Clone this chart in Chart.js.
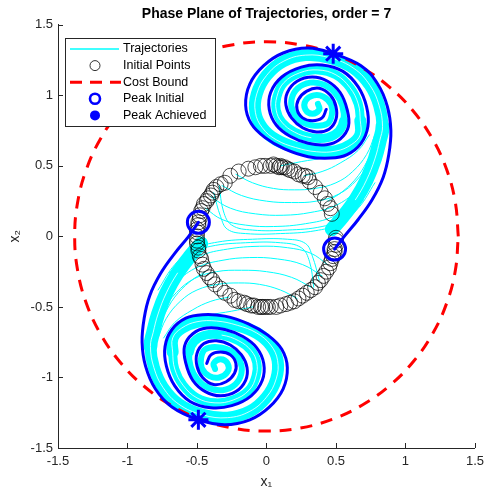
<!DOCTYPE html>
<html>
<head>
<meta charset="utf-8">
<script src="https://cdn.jsdelivr.net/npm/chart.js@4.4.1/dist/chart.umd.min.js"></script>
<style>
  html, body { margin: 0; padding: 0; background: #fff; }
</style>
</head>
<body>
<canvas id="phase" width="490" height="491"></canvas>
<script>
const FONT = '"Liberation Sans", Arial, Helvetica, sans-serif';

// axis ticks
const xTicks = [-1.5, -1, -0.5, 0, 0.5, 1, 1.5];
const xTickLabels = ['-1.5', '-1', '-0.5', '0', '0.5', '1', '1.5'];
const yTicks = [-1.5, -1, -0.5, 0, 0.5, 1, 1.5];
const yTickLabels = ['-1.5', '-1', '-0.5', '0', '0.5', '1', '1.5'];
const legendLabels = ['Trajectories', 'Initial Points', 'Cost Bound', 'Peak Initial', 'Peak Achieved'];

// initial points (ring of radius ~0.5)
const initPts = [
  [0.47,0.16],[0.46,0.20],[0.44,0.23],[0.42,0.27],[0.39,0.31],[0.35,0.35],[0.31,0.39],[0.30,0.42],[0.28,0.43],[0.26,0.43],
  [0.23,0.44],[0.20,0.46],[0.17,0.47],[0.15,0.48],[0.13,0.49],[0.11,0.49],[0.10,0.50],[0.09,0.49],[0.07,0.50],[0.05,0.51],
  [0.03,0.50],[-0.01,0.50],[-0.04,0.50],[-0.08,0.49],[-0.13,0.48],[-0.20,0.46],[-0.26,0.43],[-0.30,0.38],[-0.33,0.37],[-0.36,0.35],
  [-0.38,0.33],[-0.39,0.31],[-0.40,0.29],[-0.42,0.27],[-0.43,0.25],[-0.45,0.23],[-0.46,0.20],[-0.47,0.18],[-0.48,0.15],[-0.48,0.13],
  [-0.49,0.10],[-0.49,0.08],[-0.50,0.05],[-0.50,0.03],[-0.50,0.00],[-0.50,-0.03],[-0.50,-0.05],[-0.49,-0.08],[-0.49,-0.10],[-0.48,-0.14],
  [-0.47,-0.16],[-0.46,-0.20],[-0.45,-0.23],[-0.43,-0.26],[-0.41,-0.29],[-0.39,-0.31],[-0.37,-0.34],[-0.33,-0.37],[-0.30,-0.40],[-0.26,-0.42],
  [-0.23,-0.45],[-0.20,-0.46],[-0.16,-0.47],[-0.14,-0.48],[-0.11,-0.49],[-0.09,-0.49],[-0.06,-0.50],[-0.04,-0.50],[-0.03,-0.50],[-0.01,-0.50],
  [0.01,-0.50],[0.03,-0.50],[0.07,-0.50],[0.10,-0.49],[0.14,-0.48],[0.17,-0.47],[0.20,-0.46],[0.23,-0.44],[0.26,-0.42],[0.29,-0.40],
  [0.32,-0.38],[0.35,-0.36],[0.37,-0.33],[0.39,-0.31],[0.41,-0.28],[0.43,-0.25],[0.45,-0.22],[0.46,-0.19],[0.47,-0.16],[0.48,-0.14],
  [0.49,-0.11],[0.49,-0.09],[0.50,-0.06],[0.50,-0.03],[0.50,-0.01]
];

const peakInit = [[-0.49, 0.10], [0.49, -0.09]];
const peakHit = [[0.48, 1.295], [-0.49, -1.30]];

// cost bound level set
const costBound = [
  [1.38,0],[1.359,0.24],[1.297,0.472],[1.195,0.69],[1.057,0.887],[0.887,1.057],[0.69,1.195],[0.472,1.297],[0.24,1.359],[0,1.38],
  [-0.24,1.359],[-0.472,1.297],[-0.69,1.195],[-0.887,1.057],[-1.057,0.887],[-1.195,0.69],[-1.297,0.472],[-1.359,0.24],[-1.38,0],
  [-1.359,-0.24],[-1.297,-0.472],[-1.195,-0.69],[-1.057,-0.887],[-0.887,-1.057],[-0.69,-1.195],[-0.472,-1.297],[-0.24,-1.359],[0,-1.38],
  [0.24,-1.359],[0.472,-1.297],[0.69,-1.195],[0.887,-1.057],[1.057,-0.887],[1.195,-0.69],[1.297,-0.472],[1.359,-0.24],[1.38,0]
];

// peak trajectories
const blueTop = [
  [0.49,-0.09],[0.56,0.00],[0.66,0.12],[0.76,0.26],[0.84,0.42],[0.88,0.58],[0.895,0.75],[0.87,0.92],[0.80,1.08],[0.68,1.21],
  [0.48,1.295],[0.30,1.335],[0.12,1.30],[-0.02,1.21],[-0.12,1.08],[-0.15,0.93],[-0.11,0.80],[-0.01,0.70],[0.13,0.62],[0.30,0.565],
  [0.46,0.555],[0.58,0.58],[0.68,0.66],[0.73,0.78],[0.72,0.92],[0.66,1.06],[0.55,1.17],[0.40,1.215],[0.25,1.20],[0.11,1.13],
  [0.03,1.02],[0.02,0.90],[0.07,0.79],[0.17,0.71],[0.30,0.66],[0.43,0.65],[0.53,0.69],[0.59,0.78],[0.58,0.90],[0.53,1.02],
  [0.44,1.10],[0.33,1.13],[0.22,1.10],[0.15,1.02],[0.14,0.93],[0.18,0.84],[0.26,0.77],[0.36,0.74],[0.45,0.76],[0.50,0.83],
  [0.50,0.92],[0.46,1.00],[0.38,1.05],[0.29,1.03],[0.23,0.97],[0.22,0.90],[0.26,0.84],[0.33,0.82],[0.40,0.84],[0.43,0.90]
];
const blueBot = [
  [-0.49,0.10],[-0.56,0.00],[-0.66,-0.12],[-0.76,-0.26],[-0.84,-0.42],[-0.88,-0.58],[-0.895,-0.75],[-0.87,-0.92],[-0.80,-1.08],[-0.68,-1.21],
  [-0.49,-1.30],[-0.30,-1.335],[-0.12,-1.30],[0.02,-1.21],[0.12,-1.08],[0.15,-0.93],[0.11,-0.80],[0.01,-0.70],[-0.13,-0.62],[-0.30,-0.565],
  [-0.46,-0.555],[-0.58,-0.58],[-0.68,-0.66],[-0.73,-0.78],[-0.72,-0.92],[-0.66,-1.06],[-0.55,-1.17],[-0.40,-1.215],[-0.25,-1.20],[-0.11,-1.13],
  [-0.03,-1.02],[-0.02,-0.90],[-0.07,-0.79],[-0.17,-0.71],[-0.30,-0.66],[-0.43,-0.65],[-0.53,-0.69],[-0.59,-0.78],[-0.58,-0.90],[-0.53,-1.02],
  [-0.44,-1.10],[-0.33,-1.13],[-0.22,-1.10],[-0.15,-1.02],[-0.14,-0.93],[-0.18,-0.84],[-0.26,-0.77],[-0.36,-0.74],[-0.45,-0.76],[-0.50,-0.83],
  [-0.50,-0.92],[-0.46,-1.00],[-0.38,-1.05],[-0.29,-1.03],[-0.23,-0.97],[-0.22,-0.90],[-0.26,-0.84],[-0.33,-0.82],[-0.40,-0.84],[-0.43,-0.90]
];

// bundle of trajectories wound into each spiral
const bandTop = [
  [0.47,0.05],[0.55,0.14],[0.64,0.26],[0.72,0.40],[0.78,0.55],[0.815,0.68],
  [0.835,0.78],[0.81,0.93],[0.745,1.07],[0.63,1.19],[0.46,1.265],[0.28,1.285],[0.12,1.24],[0.0,1.14],[-0.07,1.01],[-0.08,0.88],
  [-0.03,0.77],[0.07,0.685],[0.21,0.63],[0.36,0.60],[0.50,0.605],[0.61,0.65],[0.675,0.72],
  [0.675,0.82],[0.66,0.94],[0.60,1.055],[0.50,1.145],[0.37,1.18],[0.24,1.16],[0.125,1.09],[0.075,0.99],[0.07,0.895],[0.11,0.81],
  [0.20,0.74],[0.32,0.70],[0.44,0.70],[0.52,0.745],
  [0.555,0.82],[0.545,0.925],[0.495,1.015],[0.415,1.075],[0.315,1.09],[0.225,1.05],[0.18,0.97],[0.19,0.885],[0.25,0.815],
  [0.35,0.785],[0.44,0.80],[0.47,0.86],
  [0.465,0.935],[0.41,0.99],[0.34,1.0],[0.28,0.96],[0.28,0.90],[0.33,0.87],[0.38,0.9],[0.37,0.94]
];
const bandBot = [
  [-0.47,-0.05],[-0.55,-0.14],[-0.64,-0.26],[-0.72,-0.40],[-0.78,-0.55],[-0.815,-0.68],
  [-0.835,-0.78],[-0.81,-0.93],[-0.745,-1.07],[-0.63,-1.19],[-0.46,-1.265],[-0.28,-1.285],[-0.12,-1.24],[0.0,-1.14],[0.07,-1.01],[0.08,-0.88],
  [0.03,-0.77],[-0.07,-0.685],[-0.21,-0.63],[-0.36,-0.60],[-0.50,-0.605],[-0.61,-0.65],[-0.675,-0.72],
  [-0.675,-0.82],[-0.66,-0.94],[-0.60,-1.055],[-0.50,-1.145],[-0.37,-1.18],[-0.24,-1.16],[-0.125,-1.09],[-0.075,-0.99],[-0.07,-0.895],[-0.11,-0.81],
  [-0.20,-0.74],[-0.32,-0.70],[-0.44,-0.70],[-0.52,-0.745],
  [-0.555,-0.82],[-0.545,-0.925],[-0.495,-1.015],[-0.415,-1.075],[-0.315,-1.09],[-0.225,-1.05],[-0.18,-0.97],[-0.19,-0.885],[-0.25,-0.815],
  [-0.35,-0.785],[-0.44,-0.80],[-0.47,-0.86],
  [-0.465,-0.935],[-0.41,-0.99],[-0.34,-1.0],[-0.28,-0.96],[-0.28,-0.90],[-0.33,-0.87],[-0.38,-0.9],[-0.37,-0.94]
];

// single trajectories leaving the ring
const thinTop = [
  [[-0.22,0.44],[-0.10,0.38],[0.05,0.34],[0.20,0.33],[0.35,0.34],[0.50,0.38],[0.62,0.46],[0.72,0.58],[0.78,0.72]],
  [[-0.32,0.36],[-0.18,0.29],[0.0,0.25],[0.18,0.24],[0.36,0.25],[0.52,0.30],[0.65,0.40],[0.75,0.54],[0.80,0.70]],
  [[-0.40,0.28],[-0.26,0.20],[-0.08,0.16],[0.12,0.15],[0.32,0.17],[0.50,0.22],[0.64,0.32],[0.76,0.48]],
  [[-0.44,0.20],[-0.32,0.12],[-0.15,0.08],[0.05,0.07],[0.28,0.09],[0.48,0.14],[0.63,0.24],[0.77,0.42]],
  [[-0.38,0.31],[-0.33,0.14],[-0.28,0.05],[-0.15,0.02],[0.10,0.02],[0.35,0.04],[0.52,0.09],[0.66,0.20],[0.78,0.38]],
  [[-0.34,0.36],[-0.31,0.18],[-0.25,0.08],[-0.10,0.045],[0.15,0.045],[0.40,0.07],[0.56,0.13],[0.70,0.26]],
  [[0.48,0.12],[0.58,0.20],[0.68,0.33],[0.76,0.47]],
  [[0.44,0.25],[0.55,0.32],[0.66,0.43],[0.74,0.56]],
  [[0.10,0.50],[0.25,0.53],[0.42,0.56],[0.58,0.61],[0.68,0.70]],
  [[0.27,0.43],[0.40,0.46],[0.53,0.52],[0.66,0.61],[0.74,0.72]]
];
const thinBot = [
  [[0.22,-0.44],[0.10,-0.38],[-0.05,-0.34],[-0.20,-0.33],[-0.35,-0.34],[-0.50,-0.38],[-0.62,-0.46],[-0.72,-0.58],[-0.78,-0.72]],
  [[0.32,-0.36],[0.18,-0.29],[0.0,-0.25],[-0.18,-0.24],[-0.36,-0.25],[-0.52,-0.30],[-0.65,-0.40],[-0.75,-0.54],[-0.80,-0.70]],
  [[0.40,-0.28],[0.26,-0.20],[0.08,-0.16],[-0.12,-0.15],[-0.32,-0.17],[-0.50,-0.22],[-0.64,-0.32],[-0.76,-0.48]],
  [[0.44,-0.20],[0.32,-0.12],[0.15,-0.08],[-0.05,-0.07],[-0.28,-0.09],[-0.48,-0.14],[-0.63,-0.24],[-0.77,-0.42]],
  [[0.38,-0.31],[0.33,-0.14],[0.28,-0.05],[0.15,-0.02],[-0.10,-0.02],[-0.35,-0.04],[-0.52,-0.09],[-0.66,-0.20],[-0.78,-0.38]],
  [[0.34,-0.36],[0.31,-0.18],[0.25,-0.08],[0.10,-0.045],[-0.15,-0.045],[-0.40,-0.07],[-0.56,-0.13],[-0.70,-0.26]],
  [[-0.48,-0.12],[-0.58,-0.20],[-0.68,-0.33],[-0.76,-0.47]],
  [[-0.44,-0.25],[-0.55,-0.32],[-0.66,-0.43],[-0.74,-0.56]],
  [[-0.10,-0.50],[-0.25,-0.53],[-0.42,-0.56],[-0.58,-0.61],[-0.68,-0.70]],
  [[-0.27,-0.43],[-0.40,-0.46],[-0.53,-0.52],[-0.66,-0.61],[-0.74,-0.72]]
];

const CYAN = '#00ffff', BLUE = '#0000ff', RED = '#ff0000', AXIS = '#262626';

const toXY = pts => pts.map(([x, y]) => ({ x, y }));
function path(pts, color, width, order, extra) {
  return Object.assign({
    data: toXY(pts), showLine: true, borderColor: color, borderWidth: width,
    pointRadius: 0, pointHoverRadius: 0, tension: 0.4, fill: false, order: order,
    borderCapStyle: 'round', borderJoinStyle: 'round'
  }, extra || {});
}
// band gets thinner as the spiral tightens
const bandWidth = c => c.p0DataIndex < 6 ? 14 : c.p0DataIndex < 23 ? 12 : c.p0DataIndex < 37 ? 9 : 6;
// thin white gap between neighbouring trajectories in the wide part of the band
const gapColor = c => c.p0DataIndex > 1 && c.p0DataIndex < 34 ? '#ffffff' : 'rgba(255,255,255,0)';

const datasets = [];
thinTop.concat(thinBot).forEach(t => datasets.push(path(t, CYAN, 1, 8)));
datasets.push(path(bandTop, CYAN, 12, 7, { segment: { borderWidth: bandWidth } }));
datasets.push(path(bandBot, CYAN, 12, 7, { segment: { borderWidth: bandWidth } }));
datasets.push(path(bandTop, '#ffffff', 0.8, 6, { segment: { borderColor: gapColor } }));
datasets.push(path(bandBot, '#ffffff', 0.8, 6, { segment: { borderColor: gapColor } }));
datasets.push(path(costBound, RED, 3, 4, { borderDash: [12, 9], borderCapStyle: 'butt' }));
datasets.push({
  data: toXY(initPts), showLine: false, order: 3, pointStyle: 'circle', pointRadius: 7.5, pointHoverRadius: 7.5,
  pointBorderColor: '#000', pointBackgroundColor: 'rgba(0,0,0,0)', pointBorderWidth: 0.7
});
datasets.push(path(blueTop, BLUE, 3, 2));
datasets.push(path(blueBot, BLUE, 3, 2));
datasets.push({
  data: toXY(peakInit), showLine: false, order: 1, pointStyle: 'circle', pointRadius: 11, pointHoverRadius: 11,
  pointBorderColor: BLUE, pointBackgroundColor: 'rgba(0,0,0,0)', pointBorderWidth: 3
});
datasets.push({
  data: toXY(peakHit), showLine: false, order: 0, pointStyle: 'star', pointRadius: 10, pointHoverRadius: 10,
  pointBorderColor: BLUE, pointBackgroundColor: BLUE, pointBorderWidth: 3
});

const inwardTicks = {
  id: 'inwardTicks',
  afterDatasetsDraw(chart) {
    const { ctx, chartArea: a, scales: { x, y } } = chart;
    ctx.save();
    ctx.strokeStyle = AXIS;
    ctx.lineWidth = 1;
    ctx.beginPath();
    xTicks.forEach(v => {
      const px = Math.round(x.getPixelForValue(v)) + 0.5;
      ctx.moveTo(px, a.bottom); ctx.lineTo(px, a.bottom - 5);
    });
    yTicks.forEach(v => {
      const py = Math.round(y.getPixelForValue(v)) + 0.5;
      ctx.moveTo(a.left, py); ctx.lineTo(a.left + 5, py);
    });
    ctx.stroke();
    ctx.restore();
  }
};

const boxLegend = {
  id: 'boxLegend',
  afterDraw(chart) {
    const ctx = chart.ctx;
    const y0 = 49, dy = 16.6, mx = 95;
    ctx.save();
    ctx.fillStyle = '#fff';
    ctx.fillRect(65, 38, 150, 88);
    ctx.strokeStyle = AXIS; ctx.lineWidth = 1;
    ctx.strokeRect(65.5, 38.5, 150, 88);

    ctx.strokeStyle = CYAN; ctx.lineWidth = 1.3;
    ctx.beginPath(); ctx.moveTo(70, y0); ctx.lineTo(119, y0); ctx.stroke();

    ctx.strokeStyle = '#000'; ctx.lineWidth = 0.8;
    ctx.beginPath(); ctx.arc(mx, y0 + dy, 5, 0, Math.PI * 2); ctx.stroke();

    ctx.strokeStyle = RED; ctx.lineWidth = 3; ctx.setLineDash([12, 8]);
    ctx.beginPath(); ctx.moveTo(70, y0 + 2 * dy); ctx.lineTo(121, y0 + 2 * dy); ctx.stroke();
    ctx.setLineDash([]);

    ctx.strokeStyle = BLUE; ctx.lineWidth = 2.6;
    ctx.beginPath(); ctx.arc(mx, y0 + 3 * dy, 5, 0, Math.PI * 2); ctx.stroke();

    ctx.fillStyle = BLUE;
    ctx.beginPath(); ctx.arc(mx, y0 + 4 * dy, 5, 0, Math.PI * 2); ctx.fill();

    ctx.fillStyle = '#000';
    ctx.font = '12.5px ' + FONT;
    ctx.textAlign = 'left'; ctx.textBaseline = 'middle';
    legendLabels.forEach((t, i) => ctx.fillText(t, 123, y0 + i * dy));
    ctx.restore();
  }
};

new Chart(document.getElementById('phase'), {
  type: 'scatter',
  data: { datasets },
  options: {
    responsive: false,
    animation: false,
    events: [],
    layout: { padding: { left: 0, right: 10, top: 0, bottom: 0 } },
    plugins: {
      legend: { display: false },
      tooltip: { enabled: false },
      title: {
        display: true, fullSize: false,
        text: 'Phase Plane of Trajectories, order = 7',
        color: '#000', font: { family: FONT, size: 14, weight: 'bold' },
        padding: { top: 6, bottom: 2 }
      }
    },
    scales: {
      x: {
        type: 'linear', position: 'bottom', min: -1.5, max: 1.5,
        afterFit: s => { s.height = 43; },
        afterBuildTicks: s => { s.ticks = xTicks.map(v => ({ value: v })); },
        grid: { display: false, drawTicks: false },
        border: { display: true, color: AXIS, width: 1 },
        ticks: {
          color: AXIS, font: { family: FONT, size: 13 }, padding: 6, maxRotation: 0, autoSkip: false,
          callback: (v, i) => xTickLabels[i]
        },
        title: { display: true, text: 'x₁', color: AXIS, font: { family: FONT, size: 14 }, padding: { top: 0, bottom: 0 } }
      },
      y: {
        type: 'linear', position: 'left', min: -1.5, max: 1.5,
        afterFit: s => { s.width = 58; },
        afterBuildTicks: s => { s.ticks = yTicks.map(v => ({ value: v })); },
        grid: { display: false, drawTicks: false },
        border: { display: true, color: AXIS, width: 1 },
        ticks: {
          color: AXIS, font: { family: FONT, size: 13 }, padding: 5, autoSkip: false,
          callback: (v, i) => yTickLabels[i]
        },
        title: { display: true, text: 'x₂', color: AXIS, font: { family: FONT, size: 14 }, padding: { top: 7, bottom: 0 } }
      }
    }
  },
  plugins: [inwardTicks, boxLegend]
});
</script>
</body>
</html>
